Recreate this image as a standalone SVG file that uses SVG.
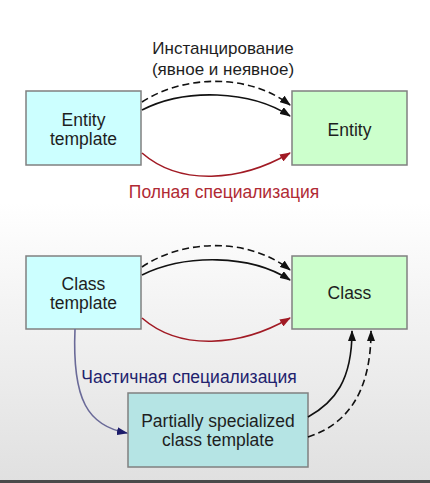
<svg xmlns="http://www.w3.org/2000/svg" width="430" height="483" viewBox="0 0 430 483">
<defs>
<linearGradient id="bg" x1="0" y1="0" x2="0" y2="483" gradientUnits="userSpaceOnUse">
<stop offset="0" stop-color="#ffffff"/>
<stop offset="0.42" stop-color="#ffffff"/>
<stop offset="1" stop-color="#e0e0e0"/>
</linearGradient>
<marker id="ab" markerWidth="11" markerHeight="8" refX="10" refY="4" orient="auto" markerUnits="userSpaceOnUse"><path d="M0,0 L11,4 L0,8 Z" fill="#111"/></marker>
<marker id="ar" markerWidth="11" markerHeight="8" refX="10" refY="4" orient="auto" markerUnits="userSpaceOnUse"><path d="M0,0 L11,4 L0,8 Z" fill="#a11a24"/></marker>
<marker id="an" markerWidth="11" markerHeight="8" refX="10" refY="4" orient="auto" markerUnits="userSpaceOnUse"><path d="M0,0 L11,4 L0,8 Z" fill="#1c1c6a"/></marker>
</defs>
<style>
.box{stroke:#808080;stroke-width:1.5}
.t{font-family:"Liberation Sans",Arial,sans-serif;font-size:17.5px;fill:#1e1e1e;text-anchor:middle}
.c{fill:none;stroke-width:1.6}
.k{stroke:#111;marker-end:url(#ab)}
.d{stroke-dasharray:7,4}
.r{stroke:#a11a24;marker-end:url(#ar)}
.n{stroke:#6a6a98;marker-end:url(#an)}
</style>
<rect width="430" height="483" fill="url(#bg)"/>
<rect x="0" y="480" width="430" height="3" fill="#4a4a4a"/>

<g id="entity-template"><rect class="box" x="26" y="91" width="115" height="74" fill="#ccffff"/><text class="t" x="83.5" y="126">Entity</text><text class="t" x="83.5" y="145">template</text></g>
<g id="entity"><rect class="box" x="292" y="91" width="115" height="74" fill="#ccffcc"/><text class="t" x="349.5" y="136">Entity</text></g>
<g id="class-template"><rect class="box" x="26" y="256" width="115" height="73" fill="#ccffff"/><text class="t" x="83.5" y="290">Class</text><text class="t" x="83.5" y="309">template</text></g>
<g id="class"><rect class="box" x="292" y="256" width="115" height="73" fill="#ccffcc"/><text class="t" x="349.5" y="299">Class</text></g>
<g id="partial"><rect class="box" x="128" y="393" width="180" height="74" fill="#b5e4e4"/><text class="t" x="218" y="427">Partially specialized</text><text class="t" x="218" y="446">class template</text></g>

<g id="connectors">
<path class="c k d" d="M142,102 C185,74 250,74 290,105"/>
<path class="c k" d="M142,110 C185,88 250,90 290,116"/>
<path class="c r" d="M142,153 C180,186 240,182 290,153"/>
<path class="c k d" d="M142,267 C185,238 250,238 290,270"/>
<path class="c k" d="M142,275 C185,254 250,254 290,280"/>
<path class="c r" d="M142,318 C180,351 240,347 290,318"/>
<path class="c n" d="M75,329 C72,400 88,426 127,433"/>
<path class="c k" d="M308,417 C335,402 352,380 352,331"/>
<path class="c k d" d="M308,437 C345,425 371,395 371,331"/>
</g>

<g id="labels">
<text class="t" x="223" y="54" style="font-size:17px">Инстанцирование</text>
<text class="t" x="223" y="75" style="font-size:17px">(явное и неявное)</text>
<text class="t" x="224" y="198" style="fill:#b02a34">Полная специализация</text>
<text class="t" x="189" y="383" style="fill:#22226e">Частичная специализация</text>
</g>
</svg>
